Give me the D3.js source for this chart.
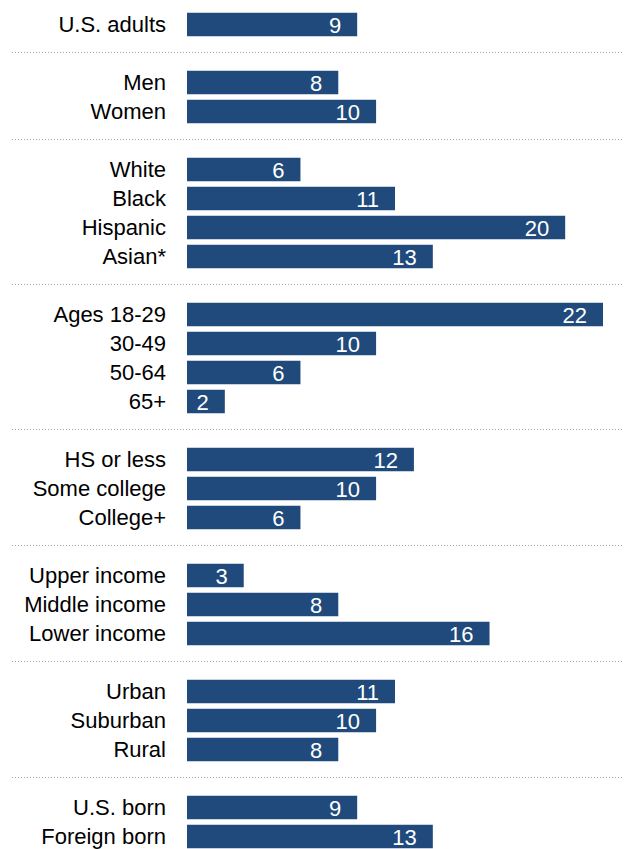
<!DOCTYPE html>
<html>
<script src="https://d3js.org/d3.v7.min.js"></script>

<head>
    <style>
        body {
            margin: 0;
            background-color: #ffffff;
            font-family: "Liberation Sans", Arial, sans-serif;
        }
    </style>
</head>

<body>
</body>
<script>
    const width = 626,
        height = 849;

    const labels = [
        "U.S. adults",
        "Men", "Women",
        "White", "Black", "Hispanic", "Asian*",
        "Ages 18-29", "30-49", "50-64", "65+",
        "HS or less", "Some college", "College+",
        "Upper income", "Middle income", "Lower income",
        "Urban", "Suburban", "Rural",
        "U.S. born", "Foreign born"
    ];
    const values = [9, 8, 10, 6, 11, 20, 13, 22, 10, 6, 2, 12, 10, 6, 3, 8, 16, 11, 10, 8, 9, 13];
    const groupSizes = [1, 2, 4, 4, 3, 3, 3, 2];

    // lay rows out in slots, one empty slot between groups
    const rows = [];
    const separators = [];
    let slot = 0, k = 0;
    groupSizes.forEach((n, g) => {
        if (g > 0) {
            separators.push(slot);
            slot++;
        }
        for (let i = 0; i < n; i++) {
            rows.push({ label: labels[k], value: values[k], slot: slot });
            k++;
            slot++;
        }
    });

    const svg = d3.select("body").append("svg").attr("width", width).attr("height", height);

    const x = d3.scaleLinear().domain([0, 22]).range([187, 603]);
    const y = d3.scaleBand()
        .domain(d3.range(slot))
        .range([10, 851])
        .paddingInner(0.19)
        .paddingOuter(0.095);

    svg.append("g")
        .selectAll("line")
        .data(separators)
        .enter()
        .append("line")
        .attr("x1", 12)
        .attr("x2", 622)
        .attr("y1", d => y(d) + y.bandwidth() / 2 - 1)
        .attr("y2", d => y(d) + y.bandwidth() / 2 - 1)
        .attr("stroke", "#a6a6a6")
        .attr("stroke-width", 1)
        .attr("stroke-dasharray", "1,2");

    svg.append("g")
        .selectAll("rect")
        .data(rows)
        .enter()
        .append("rect")
        .attr("x", x(0))
        .attr("y", d => y(d.slot))
        .attr("width", d => x(d.value) - x(0))
        .attr("height", y.bandwidth())
        .attr("fill", "#214a7c");

    svg.append("g")
        .selectAll("text")
        .data(rows)
        .enter()
        .append("text")
        .attr("x", 166)
        .attr("y", d => y(d.slot) + y.bandwidth() / 2)
        .attr("text-anchor", "end")
        .attr("dominant-baseline", "central")
        .attr("font-size", "22px")
        .attr("fill", "#000")
        .text(d => d.label);

    svg.append("g")
        .selectAll("text")
        .data(rows)
        .enter()
        .append("text")
        .attr("x", d => x(d.value) - 16)
        .attr("y", d => y(d.slot) + y.bandwidth() / 2 + 1)
        .attr("text-anchor", "end")
        .attr("dominant-baseline", "central")
        .attr("font-size", "22px")
        .attr("fill", "#fff")
        .text(d => d.value);
</script>

</html>
